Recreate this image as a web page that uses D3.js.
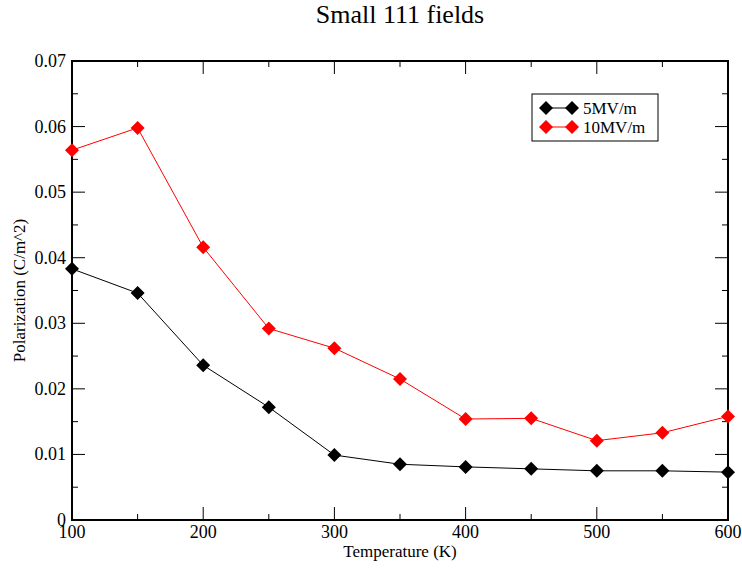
<!DOCTYPE html>
<html>
<head>
<meta charset="utf-8">
<script src="https://cdn.jsdelivr.net/npm/d3@7"></script>
<style>
  html, body { margin: 0; padding: 0; background: #fff; }
  text { font-family: "Liberation Serif", "Times New Roman", "DejaVu Serif", serif; }
</style>
</head>
<body>
<svg id="chart" width="742" height="568"></svg>
<script>
// Temperatures (K) and polarization (C/m^2) for two field strengths
const temperatures = [100, 150, 200, 250, 300, 350, 400, 450, 500, 550, 600];
const pol5MV  = [0.0383, 0.0346, 0.0236, 0.0172, 0.0099, 0.0085, 0.0081, 0.0078, 0.0075, 0.0075, 0.0073];
const pol10MV = [0.0564, 0.0598, 0.0416, 0.0292, 0.0262, 0.0215, 0.0154, 0.0155, 0.0121, 0.0133, 0.0158];
const seriesNames  = ["5MV/m", "10MV/m"];
const seriesColors = ["#000000", "#ff0000"];
const xTicks = [100, 200, 300, 400, 500, 600];
const yTicks = [0, 0.01, 0.02, 0.03, 0.04, 0.05, 0.06, 0.07];
const yTickLabels = ["0", "0.01", "0.02", "0.03", "0.04", "0.05", "0.06", "0.07"];

const FONT = "'Liberation Serif', 'Times New Roman', 'DejaVu Serif', serif";
const svg = d3.select("#chart");
const L = 72, R = 728, T = 61, B = 520;

const x = d3.scaleLinear().domain([100, 600]).range([L, R]);
const y = d3.scaleLinear().domain([0, 0.07]).range([B, T]);

// Title
svg.append("text").attr("x", (L + R) / 2).attr("y", 23).attr("font-family", FONT)
  .attr("text-anchor", "middle").attr("font-size", 26).text("Small 111 fields");

// Ticks pointing inward on all four sides
const xMinor = d3.range(150, 600, 100);
const yMinor = d3.range(0.005, 0.07, 0.01);
const g = svg.append("g").attr("stroke", "#000").attr("stroke-width", 1);
function vTicks(vals, len) {
  vals.forEach(v => {
    g.append("line").attr("x1", x(v)).attr("x2", x(v)).attr("y1", B).attr("y2", B - len);
    g.append("line").attr("x1", x(v)).attr("x2", x(v)).attr("y1", T).attr("y2", T + len);
  });
}
function hTicks(vals, len) {
  vals.forEach(v => {
    g.append("line").attr("y1", y(v)).attr("y2", y(v)).attr("x1", L).attr("x2", L + len);
    g.append("line").attr("y1", y(v)).attr("y2", y(v)).attr("x1", R).attr("x2", R - len);
  });
}
vTicks(xTicks.slice(1, -1), 13);
vTicks(xMinor, 6);
hTicks(yTicks.slice(1, -1), 13);
hTicks(yMinor, 6);

// Frame
svg.append("rect").attr("x", L).attr("y", T).attr("width", R - L).attr("height", B - T)
  .attr("fill", "none").attr("stroke", "#000").attr("stroke-width", 2);

// Tick labels
svg.append("g").selectAll("text").data(xTicks).join("text")
  .attr("x", d => x(d)).attr("y", 538).attr("text-anchor", "middle")
  .attr("font-family", FONT).attr("font-size", 18).text(d => d);
svg.append("g").selectAll("text").data(yTicks).join("text")
  .attr("x", 66).attr("y", d => y(d) + 6).attr("text-anchor", "end")
  .attr("font-family", FONT).attr("font-size", 18).text((d, i) => yTickLabels[i]);

// Axis titles
svg.append("text").attr("x", (L + R) / 2).attr("y", 557).attr("font-family", FONT)
  .attr("text-anchor", "middle").attr("font-size", 17).text("Temperature (K)");
svg.append("text").attr("transform", `translate(25,${(T + B) / 2}) rotate(-90)`)
  .attr("font-family", FONT)
  .attr("text-anchor", "middle").attr("font-size", 17).text("Polarization (C/m^2)");

// Diamond marker
const diamond = (cx, cy, r) => `M${cx},${cy - r}L${cx + r},${cy}L${cx},${cy + r}L${cx - r},${cy}Z`;

const series = [pol5MV, pol10MV];
series.forEach((vals, si) => {
  const pts = temperatures.map((t, i) => [x(t), y(vals[i])]);
  svg.append("path").attr("d", d3.line()(pts)).attr("fill", "none")
    .attr("stroke", seriesColors[si]).attr("stroke-width", 1);
  svg.append("g").selectAll("path").data(pts).join("path")
    .attr("d", p => diamond(p[0], p[1], 7)).attr("fill", seriesColors[si]);
});

// Legend
const lg = svg.append("g");
lg.append("rect").attr("x", 532).attr("y", 94).attr("width", 126).attr("height", 47)
  .attr("fill", "#fff").attr("stroke", "#000").attr("stroke-width", 1);
seriesNames.forEach((name, i) => {
  const cy = 108 + i * 19;
  lg.append("line").attr("x1", 546).attr("x2", 572).attr("y1", cy).attr("y2", cy)
    .attr("stroke", seriesColors[i]).attr("stroke-width", 1);
  [546, 572].forEach(cx => lg.append("path").attr("d", diamond(cx, cy, 7)).attr("fill", seriesColors[i]));
  lg.append("text").attr("x", 583).attr("y", cy + 6).attr("font-family", FONT)
    .attr("font-size", 17).text(name);
});
</script>
</body>
</html>
